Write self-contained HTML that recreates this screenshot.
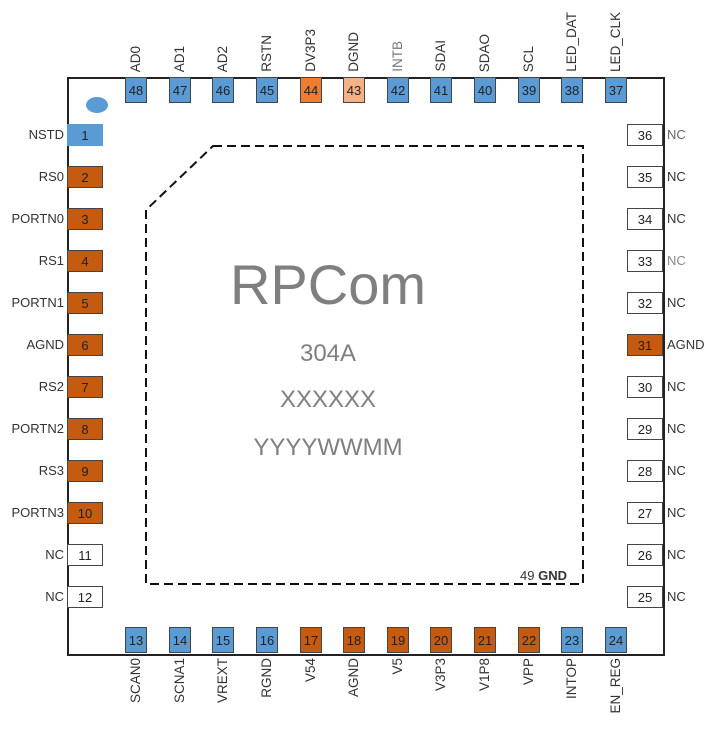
<!DOCTYPE html>
<html><head><meta charset="utf-8"><style>
body{margin:0;width:720px;height:731px;background:#fff;position:relative;overflow:hidden;font-family:"Liberation Sans",sans-serif}
.p{position:absolute;box-sizing:border-box;border:1px solid #444;font-size:13px;color:#222;display:flex;align-items:center;justify-content:center}
.b{background:#5b9bd5}.o{background:#c55a11}.w{background:#fff}
.t{position:absolute;width:22px;height:26px;top:77px}
.bt{position:absolute;width:22px;height:26px;top:627px}
.l{left:67px;width:36px;height:22px}
.r{left:627px;width:36px;height:22px}
.ll{position:absolute;right:656px;font-size:13px;color:#333;height:22px;line-height:22px}
.rl{position:absolute;left:667px;font-size:13px;color:#333;height:22px;line-height:22px}
.vt{position:absolute;font-size:13.5px;color:#333;writing-mode:vertical-rl;transform:rotate(180deg);white-space:nowrap;width:16px;text-align:left;line-height:16px}
.tp{bottom:659px}
.bm{top:658px}
.big{position:absolute;color:#7f7f7f;text-align:center;width:300px;left:178px}
</style></head><body>
<div style="position:absolute;left:67px;top:77px;width:594px;height:575px;border:2px solid #222"></div>
<svg style="position:absolute;left:0;top:0" width="720" height="731"><path d="M213 146 L583 146 L583 584 L146 584 L146 210 Z" fill="none" stroke="#111" stroke-width="2" stroke-dasharray="9,5"/><ellipse cx="97" cy="105" rx="11" ry="8" fill="#5b9bd5"/></svg>
<div class="big" style="top:252px;font-size:56px">RPCom</div>
<div class="big" style="top:340px;font-size:24px">304A</div>
<div class="big" style="top:386px;font-size:24px">XXXXXX</div>
<div class="big" style="top:434px;font-size:24px">YYYYWWMM</div>
<div style="position:absolute;left:520px;top:568px;font-size:13px;color:#333">49 <b>GND</b></div>

<div class="p b t" style="left:125px">48</div><div class="p b t" style="left:169px">47</div><div class="p b t" style="left:212px">46</div><div class="p b t" style="left:256px">45</div><div class="p t" style="left:300px;background:#ed7d31">44</div><div class="p t" style="left:343px;background:#f4b183">43</div><div class="p b t" style="left:387px">42</div><div class="p b t" style="left:430px">41</div><div class="p b t" style="left:474px">40</div><div class="p b t" style="left:518px">39</div><div class="p b t" style="left:561px">38</div><div class="p b t" style="left:605px">37</div>
<div class="vt tp" style="left:128px">AD0</div><div class="vt tp" style="left:172px">AD1</div><div class="vt tp" style="left:215px">AD2</div><div class="vt tp" style="left:259px">RSTN</div><div class="vt tp" style="left:303px">DV3P3</div><div class="vt tp" style="left:346px">DGND</div><div class="vt tp" style="left:390px;color:#777">INTB</div><div class="vt tp" style="left:433px">SDAI</div><div class="vt tp" style="left:477px">SDAO</div><div class="vt tp" style="left:521px">SCL</div><div class="vt tp" style="left:564px">LED_DAT</div><div class="vt tp" style="left:608px">LED_CLK</div>

<div class="p b bt" style="left:125px">13</div><div class="p b bt" style="left:169px">14</div><div class="p b bt" style="left:212px">15</div><div class="p b bt" style="left:256px">16</div><div class="p o bt" style="left:300px">17</div><div class="p o bt" style="left:343px">18</div><div class="p o bt" style="left:387px">19</div><div class="p o bt" style="left:430px">20</div><div class="p o bt" style="left:474px">21</div><div class="p o bt" style="left:518px">22</div><div class="p b bt" style="left:561px">23</div><div class="p b bt" style="left:605px">24</div>
<div class="vt bm" style="left:128px">SCAN0</div><div class="vt bm" style="left:172px">SCNA1</div><div class="vt bm" style="left:215px">VREXT</div><div class="vt bm" style="left:259px">RGND</div><div class="vt bm" style="left:303px">V54</div><div class="vt bm" style="left:346px">AGND</div><div class="vt bm" style="left:390px">V5</div><div class="vt bm" style="left:433px">V3P3</div><div class="vt bm" style="left:477px">V1P8</div><div class="vt bm" style="left:521px">VPP</div><div class="vt bm" style="left:564px">INTOP</div><div class="vt bm" style="left:608px">EN_REG</div>

<div class="p b l" style="top:124px;border:none">1</div><div class="p o l" style="top:166px">2</div><div class="p o l" style="top:208px">3</div><div class="p o l" style="top:250px">4</div><div class="p o l" style="top:292px">5</div><div class="p o l" style="top:334px">6</div><div class="p o l" style="top:376px">7</div><div class="p o l" style="top:418px">8</div><div class="p o l" style="top:460px">9</div><div class="p o l" style="top:502px">10</div><div class="p w l" style="top:544px">11</div><div class="p w l" style="top:586px">12</div>
<div class="ll" style="top:124px">NSTD</div><div class="ll" style="top:166px">RS0</div><div class="ll" style="top:208px">PORTN0</div><div class="ll" style="top:250px">RS1</div><div class="ll" style="top:292px">PORTN1</div><div class="ll" style="top:334px">AGND</div><div class="ll" style="top:376px">RS2</div><div class="ll" style="top:418px">PORTN2</div><div class="ll" style="top:460px">RS3</div><div class="ll" style="top:502px">PORTN3</div><div class="ll" style="top:544px">NC</div><div class="ll" style="top:586px">NC</div>

<div class="p w r" style="top:124px">36</div><div class="p w r" style="top:166px">35</div><div class="p w r" style="top:208px">34</div><div class="p w r" style="top:250px">33</div><div class="p w r" style="top:292px">32</div><div class="p o r" style="top:334px">31</div><div class="p w r" style="top:376px">30</div><div class="p w r" style="top:418px">29</div><div class="p w r" style="top:460px">28</div><div class="p w r" style="top:502px">27</div><div class="p w r" style="top:544px">26</div><div class="p w r" style="top:586px">25</div>
<div class="rl" style="top:124px;color:#666">NC</div><div class="rl" style="top:166px">NC</div><div class="rl" style="top:208px">NC</div><div class="rl" style="top:250px;color:#888">NC</div><div class="rl" style="top:292px">NC</div><div class="rl" style="top:334px">AGND</div><div class="rl" style="top:376px">NC</div><div class="rl" style="top:418px">NC</div><div class="rl" style="top:460px">NC</div><div class="rl" style="top:502px">NC</div><div class="rl" style="top:544px">NC</div><div class="rl" style="top:586px">NC</div>
</body></html>
